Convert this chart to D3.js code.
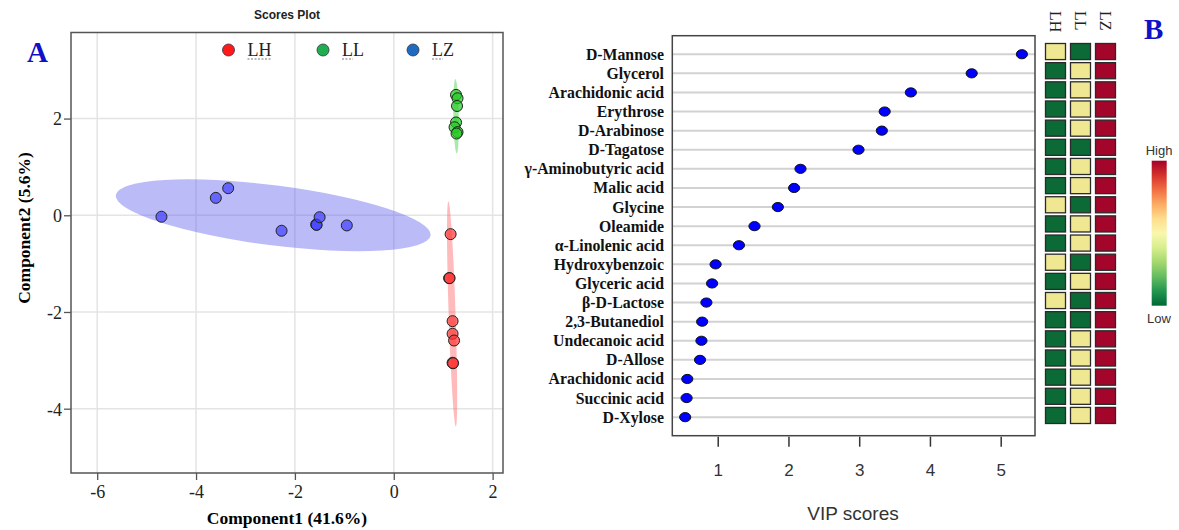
<!doctype html>
<html lang="en">
<head>
<meta charset="utf-8">
<title>Scores plot and VIP scores</title>
<script src="https://cdnjs.cloudflare.com/ajax/libs/d3/7.8.5/d3.min.js"></script>
<style>
body { margin: 0; background: #fff; }
svg { display: block; }
.serif { font-family: "Liberation Serif", "Times New Roman", serif; }
.sans { font-family: "Liberation Sans", Arial, sans-serif; }
</style>
</head>
<body>
<div id="chart"></div>
<script>

var width = 1179;
var height = 530;

// ---- panel A data: PLS-DA scores ----
var groups = ["LH", "LL", "LZ"];
var groupFill = ["#ff3333", "#22cc22", "#4040ff"];
var legendFill = ["#ff1a1a", "#1fae4f", "#1e6bbf"];

var lhScores = [[1.15, -0.39], [1.12, -1.30], [1.13, -1.30], [1.19, -2.19], [1.19, -2.45],
                [1.22, -2.59], [1.19, -3.05], [1.20, -3.06]];
var llScores = [[1.26, 2.49], [1.29, 2.42], [1.28, 2.26], [1.26, 1.92], [1.23, 1.82],
                [1.29, 1.72], [1.27, 1.69]];
var lzScores = [[-4.70, -0.03], [-3.60, 0.36], [-3.35, 0.56], [-2.27, -0.32], [-1.57, -0.19],
                [-1.56, -0.20], [-1.50, -0.04], [-0.95, -0.21]];

// confidence ellipses: centre x, centre y, radius x, radius y (data units), tilt in degrees
var ellipses = [
  {group: "LH", cx: 1.18, cy: -2.04, rx: 0.07, ry: 2.33, tilt: -1.9},
  {group: "LL", cx: 1.26, cy: 2.05, rx: 0.055, ry: 0.77, tilt: -1.0},
  {group: "LZ", cx: -2.44, cy: 0.0, rx: 3.21, ry: 0.62, tilt: 7.3}
];

var scoreXTicks = [-6, -4, -2, 0, 2];
var scoreYTicks = [-4, -2, 0, 2];

// ---- panel B data: VIP scores and relative levels ----
var metabolites = ["D-Mannose", "Glycerol", "Arachidonic acid", "Erythrose", "D-Arabinose",
  "D-Tagatose", "\u03b3-Aminobutyric acid", "Malic acid", "Glycine", "Oleamide",
  "\u03b1-Linolenic acid", "Hydroxybenzoic", "Glyceric acid", "\u03b2-D-Lactose",
  "2,3-Butanediol", "Undecanoic acid", "D-Allose", "Arachidonic acid", "Succinic acid", "D-Xylose"];
var vipScores = [5.30, 4.59, 3.73, 3.36, 3.32, 2.99, 2.17, 2.08, 1.85, 1.52,
                 1.30, 0.97, 0.92, 0.84, 0.78, 0.77, 0.75, 0.57, 0.56, 0.54];
var vipTicks = [1, 2, 3, 4, 5];

// 0 = low, 0.5 = middle, 1 = high
var levelLH = [0.5, 0, 0, 0, 0, 0, 0, 0, 0.5, 0, 0, 0.5, 0, 0.5, 0, 0, 0, 0, 0, 0];
var levelLL = [0, 0.5, 0.5, 0.5, 0.5, 0, 0.5, 0.5, 0, 0.5, 0.5, 0, 0.5, 0, 0, 0.5, 0.5, 0.5, 0.5, 0.5];
var levelLZ = [1, 1, 1, 1, 1, 1, 1, 1, 1, 1, 1, 1, 1, 1, 1, 1, 1, 1, 1, 1];

var svg = d3.select("#chart").append("svg")
    .attr("width", width)
    .attr("height", height);

// =================== Panel A ===================
var A = {left: 71, right: 503, top: 32.5, bottom: 473};

var x = d3.scaleLinear().domain([-6.53, 2.21]).range([A.left, A.right]);
var y = d3.scaleLinear().domain([-5.33, 3.78]).range([A.bottom, A.top]);

var gA = svg.append("g");

// grid
gA.selectAll(".vgrid").data(scoreXTicks).enter().append("line")
    .attr("x1", function(d) { return x(d); }).attr("x2", function(d) { return x(d); })
    .attr("y1", A.top).attr("y2", A.bottom)
    .attr("stroke", "#e4e4e4").attr("stroke-width", 1.5);
gA.selectAll(".hgrid").data(scoreYTicks).enter().append("line")
    .attr("y1", function(d) { return y(d); }).attr("y2", function(d) { return y(d); })
    .attr("x1", A.left).attr("x2", A.right)
    .attr("stroke", "#e4e4e4").attr("stroke-width", 1.5);

// ellipses
gA.selectAll(".ell").data(ellipses).enter().append("ellipse")
    .attr("cx", 0).attr("cy", 0)
    .attr("rx", function(d) { return x(d.rx) - x(0); })
    .attr("ry", function(d) { return y(0) - y(d.ry); })
    .attr("transform", function(d) { return "translate(" + x(d.cx) + "," + y(d.cy) + ") rotate(" + d.tilt + ")"; })
    .attr("fill", function(d) { return d.group == "LZ" ? "#5555ee" : (d.group == "LL" ? "#33cc33" : "#ff5c5c"); })
    .attr("fill-opacity", function(d) { return d.group == "LZ" ? 0.4 : 0.42; });

// points
var allScores = [lhScores, llScores, lzScores];
allScores.forEach(function(pts, gi) {
  gA.selectAll(".pt" + gi).data(pts).enter().append("circle")
    .attr("cx", function(d) { return x(d[0]); })
    .attr("cy", function(d) { return y(d[1]); })
    .attr("r", 5.5)
    .attr("fill", groupFill[gi])
    .attr("fill-opacity", 0.7)
    .attr("stroke", "#222")
    .attr("stroke-width", 1);
});

// frame
gA.append("rect")
    .attr("x", A.left).attr("y", A.top)
    .attr("width", A.right - A.left).attr("height", A.bottom - A.top)
    .attr("fill", "none").attr("stroke", "#555").attr("stroke-width", 1.5);

// axes (plain hyphen for negatives, as in the original)
var plainFmt = function(d) { return String(d); };
var xAxisA = gA.append("g")
    .attr("transform", "translate(0," + A.bottom + ")")
    .call(d3.axisBottom(x).tickValues(scoreXTicks).tickSize(7).tickPadding(5).tickFormat(plainFmt));
var yAxisA = gA.append("g")
    .attr("transform", "translate(" + A.left + ",0)")
    .call(d3.axisLeft(y).tickValues(scoreYTicks).tickSize(7).tickPadding(2).tickFormat(plainFmt));
[xAxisA, yAxisA].forEach(function(ax) {
  ax.select(".domain").remove();
  ax.selectAll("line").attr("stroke", "#555").attr("stroke-width", 1.3);
  ax.selectAll("text").attr("class", "serif").attr("font-size", 18).attr("fill", "#222");
});
yAxisA.selectAll("text").attr("dy", "0.35em");

gA.append("text").attr("class", "serif")
    .attr("x", 287).attr("y", 524)
    .attr("text-anchor", "middle").attr("font-size", 17.5).attr("font-weight", "bold")
    .text("Component1 (41.6%)");
gA.append("text").attr("class", "serif")
    .attr("transform", "translate(30,228) rotate(-90)")
    .attr("text-anchor", "middle").attr("font-size", 17.5).attr("font-weight", "bold")
    .text("Component2 (5.6%)");

gA.append("text").attr("class", "sans")
    .attr("x", 287).attr("y", 19)
    .attr("text-anchor", "middle").attr("font-size", 12).attr("font-weight", "bold").attr("fill", "#222")
    .text("Scores Plot");

gA.append("text").attr("class", "serif")
    .attr("x", 27).attr("y", 62)
    .attr("font-size", 29).attr("font-weight", "bold").attr("fill", "#1010c8")
    .text("A");

// legend
var legendX = [228.5, 323, 413];
var legend = gA.selectAll(".leg").data(groups).enter().append("g")
    .attr("transform", function(d, i) { return "translate(" + legendX[i] + ",50)"; });
legend.append("circle").attr("r", 6)
    .attr("fill", function(d, i) { return legendFill[i]; })
    .attr("stroke", "#334").attr("stroke-width", 0.8);
legend.append("text").attr("class", "serif")
    .attr("x", 19).attr("y", 5.5)
    .attr("font-size", 18).attr("fill", "#222")
    .text(function(d) { return d; });
legend.append("line")
    .attr("x1", 19).attr("x2", function(d, i) { return i == 0 ? 42 : 30; })
    .attr("y1", 9).attr("y2", 9)
    .attr("stroke", "#777").attr("stroke-width", 1).attr("stroke-dasharray", "2,1.5");

// =================== Panel B ===================
var B = {left: 672.3, right: 1035, top: 35.7, bottom: 435.7};

var vx = d3.scaleLinear().domain([0.358, 5.485]).range([B.left, B.right]);
var vy = d3.scalePoint().domain(d3.range(metabolites.length)).range([B.top, B.bottom]).padding(0.97);

var gB = svg.append("g");

gB.selectAll(".row").data(metabolites).enter().append("line")
    .attr("x1", B.left).attr("x2", B.right)
    .attr("y1", function(d, i) { return vy(i); }).attr("y2", function(d, i) { return vy(i); })
    .attr("stroke", "#d2d2d2").attr("stroke-width", 2);

gB.selectAll(".vip").data(vipScores).enter().append("ellipse")
    .attr("cx", function(d) { return vx(d); })
    .attr("cy", function(d, i) { return vy(i); })
    .attr("rx", 5.6).attr("ry", 4.6)
    .attr("fill", "#0000ff").attr("stroke", "#111").attr("stroke-width", 1);

gB.append("rect")
    .attr("x", B.left).attr("y", B.top)
    .attr("width", B.right - B.left).attr("height", B.bottom - B.top)
    .attr("fill", "none").attr("stroke", "#444").attr("stroke-width", 1.5);

gB.selectAll(".lab").data(metabolites).enter().append("text")
    .attr("class", "serif")
    .attr("x", 664)
    .attr("y", function(d, i) { return vy(i); })
    .attr("dy", "0.35em")
    .attr("text-anchor", "end").attr("font-size", 15.8).attr("font-weight", "bold").attr("fill", "#111")
    .text(function(d) { return d; });

var xAxisB = gB.append("g")
    .attr("transform", "translate(0," + (B.bottom + 1) + ")")
    .call(d3.axisBottom(vx).tickValues(vipTicks).tickSize(10).tickPadding(17).tickFormat(d3.format("d")));
xAxisB.select(".domain").remove();
xAxisB.selectAll("line").attr("stroke", "#333").attr("stroke-width", 1.5);
xAxisB.selectAll("text").attr("class", "sans").attr("font-size", 17).attr("fill", "#333");

gB.append("text").attr("class", "sans")
    .attr("x", 853).attr("y", 520)
    .attr("text-anchor", "middle").attr("font-size", 19).attr("fill", "#333")
    .text("VIP scores");

// heatmap
var heatCols = d3.scaleBand().domain(groups).range([1045.5, 1115.5]).paddingInner(0.2);
var heatRows = d3.scaleBand().domain(d3.range(metabolites.length)).range([43.5, 423.5]).paddingInner(0.16);
var heatColor = d3.scaleLinear().domain([0, 0.5, 1]).range(["#0b6a35", "#efe792", "#a3062a"]);

var levels = [levelLH, levelLL, levelLZ];
levels.forEach(function(vals, gi) {
  gB.selectAll(".cell" + gi).data(vals).enter().append("rect")
    .attr("x", heatCols(groups[gi]))
    .attr("y", function(d, i) { return heatRows(i); })
    .attr("width", heatCols.bandwidth())
    .attr("height", heatRows.bandwidth())
    .attr("fill", function(d) { return heatColor(d); })
    .attr("stroke", "#2a2a2a").attr("stroke-width", 1.3);
});

gB.selectAll(".colhead").data(groups).enter().append("text")
    .attr("class", "serif")
    .attr("transform", function(d) { return "translate(" + (heatCols(d) + heatCols.bandwidth() / 2) + ",11) rotate(90)"; })
    .attr("dy", "0.35em")
    .attr("font-size", 16).attr("fill", "#222")
    .text(function(d) { return d; });

gB.append("text").attr("class", "serif")
    .attr("x", 1144).attr("y", 39)
    .attr("font-size", 29).attr("font-weight", "bold").attr("fill", "#1010c8")
    .text("B");

// colour key
var defs = svg.append("defs");
var grad = defs.append("linearGradient").attr("id", "key")
    .attr("x1", 0).attr("x2", 0).attr("y1", 1).attr("y2", 0);
d3.range(0, 1.01, 0.1).forEach(function(t) {
  grad.append("stop").attr("offset", t).attr("stop-color", d3.interpolateRdYlGn(1 - t));
});
gB.append("rect")
    .attr("x", 1151.7).attr("y", 160.7).attr("width", 15).attr("height", 145)
    .attr("fill", "url(#key)");
gB.append("text").attr("class", "sans")
    .attr("x", 1159).attr("y", 155).attr("text-anchor", "middle")
    .attr("font-size", 13).attr("fill", "#333").text("High");
gB.append("text").attr("class", "sans")
    .attr("x", 1159).attr("y", 323).attr("text-anchor", "middle")
    .attr("font-size", 13).attr("fill", "#333").text("Low");

</script>
</body>
</html>
